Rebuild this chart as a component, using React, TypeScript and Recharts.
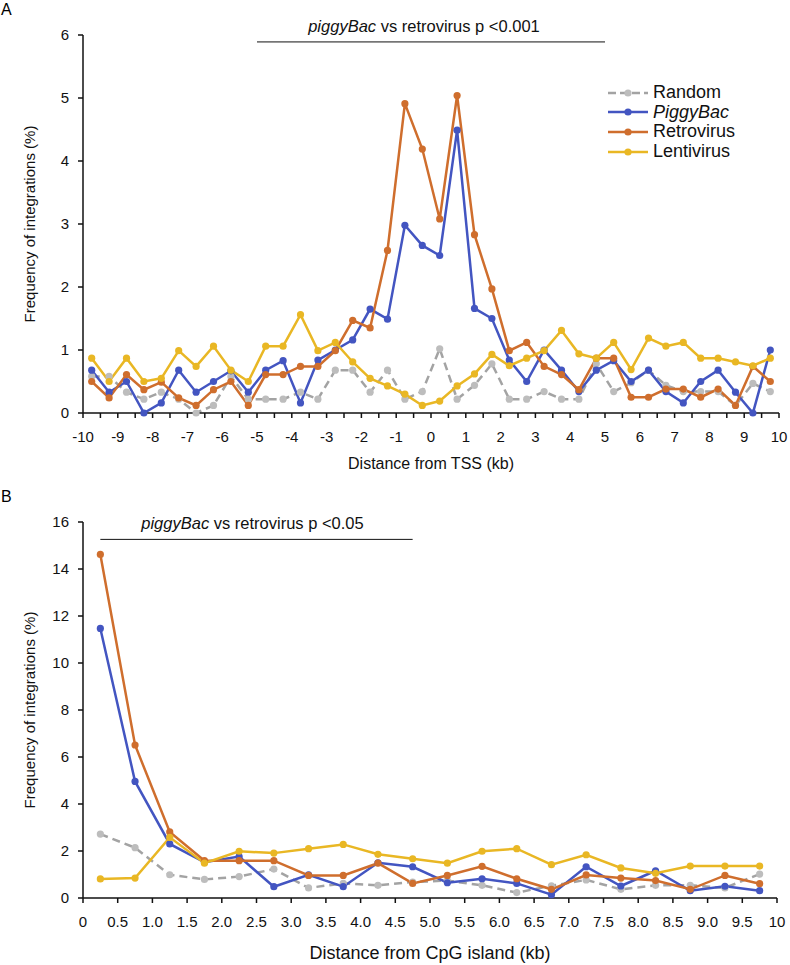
import React from "react";
import {
  LineChart,
  Line,
  XAxis,
  YAxis,
  ReferenceLine,
  Legend,
} from "recharts";

// Panel A: distance from TSS (kb), bin centres
const tssDistance = [
  -9.75, -9.25, -8.75, -8.25, -7.75, -7.25, -6.75, -6.25, -5.75, -5.25,
  -4.75, -4.25, -3.75, -3.25, -2.75, -2.25, -1.75, -1.25, -0.75, -0.25,
  0.25, 0.75, 1.25, 1.75, 2.25, 2.75, 3.25, 3.75, 4.25, 4.75,
  5.25, 5.75, 6.25, 6.75, 7.25, 7.75, 8.25, 8.75, 9.25, 9.75,
];
const tssRandom = [
  0.58, 0.58, 0.33, 0.22, 0.33, 0.22, 0.0, 0.12, 0.58, 0.22,
  0.22, 0.22, 0.33, 0.22, 0.68, 0.68, 0.33, 0.68, 0.22, 0.34,
  1.02, 0.22, 0.44, 0.78, 0.22, 0.22, 0.34, 0.22, 0.22, 0.78,
  0.34, 0.48, 0.68, 0.44, 0.34, 0.34, 0.34, 0.12, 0.47, 0.34,
];
const tssPiggyBac = [
  0.68, 0.33, 0.5, 0.0, 0.16, 0.68, 0.33, 0.5, 0.67, 0.33,
  0.68, 0.83, 0.16, 0.84, 1.0, 1.16, 1.65, 1.49, 2.98, 2.66,
  2.5, 4.49, 1.66, 1.5, 0.84, 0.5, 1.0, 0.68, 0.34, 0.68,
  0.83, 0.5, 0.68, 0.34, 0.16, 0.5, 0.68, 0.33, 0.0, 1.0,
];
const tssRetrovirus = [
  0.5, 0.24, 0.61, 0.37, 0.49, 0.24, 0.12, 0.37, 0.5, 0.12,
  0.61, 0.61, 0.74, 0.74, 0.99, 1.47, 1.35, 2.58, 4.91, 4.19,
  3.08, 5.04, 2.83, 1.97, 0.99, 1.12, 0.74, 0.61, 0.37, 0.87,
  0.87, 0.25, 0.25, 0.38, 0.38, 0.25, 0.38, 0.12, 0.74, 0.5,
];
const tssLentivirus = [
  0.87, 0.5, 0.87, 0.5, 0.55, 0.99, 0.74, 1.06, 0.68, 0.5,
  1.06, 1.06, 1.56, 0.99, 1.12, 0.81, 0.55, 0.43, 0.3, 0.12,
  0.19, 0.43, 0.62, 0.93, 0.75, 0.87, 0.99, 1.31, 0.94, 0.87,
  1.12, 0.69, 1.19, 1.06, 1.12, 0.87, 0.87, 0.81, 0.75, 0.87,
];
const tssTicks = [
  -10, -9.5, -9, -8.5, -8, -7.5, -7, -6.5, -6, -5.5, -5, -4.5, -4, -3.5,
  -3, -2.5, -2, -1.5, -1, -0.5, 0, 0.5, 1, 1.5, 2, 2.5, 3, 3.5, 4, 4.5,
  5, 5.5, 6, 6.5, 7, 7.5, 8, 8.5, 9, 9.5, 10,
];
const tssYTicks = [0, 1, 2, 3, 4, 5, 6];

// Panel B: distance from CpG island (kb), bin centres
const cpgDistance = [
  0.25, 0.75, 1.25, 1.75, 2.25, 2.75, 3.25, 3.75, 4.25, 4.75,
  5.25, 5.75, 6.25, 6.75, 7.25, 7.75, 8.25, 8.75, 9.25, 9.75,
];
const cpgRandom = [
  2.72, 2.14, 0.99, 0.79, 0.91, 1.23, 0.43, 0.62, 0.54, 0.68,
  0.74, 0.54, 0.23, 0.52, 0.77, 0.37, 0.54, 0.54, 0.43, 1.02,
];
const cpgPiggyBac = [
  11.47, 4.96, 2.3, 1.52, 1.76, 0.48, 0.99, 0.48, 1.5, 1.33,
  0.65, 0.82, 0.62, 0.14, 1.33, 0.51, 1.16, 0.31, 0.5, 0.31,
];
const cpgRetrovirus = [
  14.62, 6.51, 2.81, 1.59, 1.59, 1.59, 0.96, 0.96, 1.48, 0.62,
  0.96, 1.35, 0.82, 0.37, 0.98, 0.85, 0.74, 0.37, 0.96, 0.61,
];
const cpgLentivirus = [
  0.81, 0.85, 2.58, 1.48, 1.99, 1.91, 2.1, 2.28, 1.86, 1.67,
  1.48, 1.99, 2.1, 1.42, 1.84, 1.28, 1.05, 1.36, 1.36, 1.36,
];
const cpgTicks = [
  0, 0.5, 1, 1.5, 2, 2.5, 3, 3.5, 4, 4.5, 5, 5.5, 6, 6.5, 7, 7.5, 8, 8.5,
  9, 9.5, 10,
];
const cpgYTicks = [0, 2, 4, 6, 8, 10, 12, 14, 16];

const series = [
  { key: "random", name: "Random", color: "#a3a3a3", dotColor: "#bdbdbd", dashed: true },
  { key: "piggyBac", name: "PiggyBac", color: "#4355c1", dotColor: "#4355c1", dashed: false },
  { key: "retrovirus", name: "Retrovirus", color: "#cf6e2d", dotColor: "#cf6e2d", dashed: false },
  { key: "lentivirus", name: "Lentivirus", color: "#e9b724", dotColor: "#e9b724", dashed: false },
];

const tssData = tssDistance.map((d, i) => ({
  d,
  random: tssRandom[i],
  piggyBac: tssPiggyBac[i],
  retrovirus: tssRetrovirus[i],
  lentivirus: tssLentivirus[i],
}));

const cpgData = cpgDistance.map((d, i) => ({
  d,
  random: cpgRandom[i],
  piggyBac: cpgPiggyBac[i],
  retrovirus: cpgRetrovirus[i],
  lentivirus: cpgLentivirus[i],
}));

const FONT = "'Liberation Sans', Arial, sans-serif";
const tickStyle = { fill: "#111", fontSize: 15, fontFamily: FONT };

const pLabel = (suffix: string, dx: number) => (props: any) => {
  const vb = props.viewBox || {};
  const cx = vb.x + (vb.width || 0) / 2 + dx;
  return (
    <text
      x={cx}
      y={vb.y - 10}
      textAnchor="middle"
      fontFamily={FONT}
      fontSize={16.5}
      fill="#111"
    >
      <tspan fontStyle="italic">piggyBac</tspan>
      <tspan> vs retrovirus p {suffix}</tspan>
    </text>
  );
};

const LegendBox = () => (
  <div style={{ fontFamily: FONT, fontSize: 18, color: "#111" }}>
    {series.map((s) => (
      <div key={s.key} style={{ display: "flex", alignItems: "center", height: 19.6 }}>
        <svg width={44} height={12} style={{ marginRight: 3 }}>
          <line
            x1={2}
            y1={6}
            x2={42}
            y2={6}
            stroke={s.color}
            strokeWidth={2.5}
            strokeDasharray={s.dashed ? "8 4" : undefined}
          />
          <circle cx={22} cy={6} r={3.6} fill={s.dotColor} />
        </svg>
        <span style={{ fontStyle: s.key === "piggyBac" ? "italic" : "normal" }}>
          {s.name}
        </span>
      </div>
    ))}
  </div>
);

const renderLines = () =>
  series.map((s) => (
    <Line
      key={s.key}
      type="linear"
      dataKey={s.key}
      name={s.name}
      stroke={s.color}
      strokeWidth={2.5}
      strokeDasharray={s.dashed ? "8 5" : undefined}
      dot={{ r: 3.6, fill: s.dotColor, stroke: s.dotColor, strokeWidth: 0 }}
      isAnimationActive={false}
    />
  ));

export default function App() {
  return (
    <div style={{ position: "absolute", left: 0, top: 0, width: 790, height: 965, background: "#fff" }}>
      <div style={{ position: "absolute", left: 1, top: 1, fontFamily: FONT, fontSize: 16 }}>A</div>
      <div style={{ position: "absolute", left: 0, top: 0 }}>
        <LineChart
          width={790}
          height={476}
          data={tssData}
          margin={{ top: 35, right: 11, left: 23, bottom: 7 }}
        >
          <XAxis
            dataKey="d"
            type="number"
            domain={[-10, 10]}
            ticks={tssTicks}
            interval={0}
            tickFormatter={(v: number) => (Number.isInteger(v) ? String(v) : "")}
            tick={tickStyle}
            tickSize={5}
            tickMargin={13}
            height={56}
            stroke="#111"
            strokeWidth={1.5}
            label={{
              value: "Distance from TSS (kb)",
              position: "insideBottom",
              offset: 0,
              style: { fontFamily: FONT, fontSize: 16, fill: "#111" },
            }}
          />
          <YAxis
            type="number"
            domain={[0, 6]}
            ticks={tssYTicks}
            interval={0}
            tick={tickStyle}
            tickSize={5}
            tickMargin={9}
            width={60}
            stroke="#111"
            strokeWidth={1.5}
            label={{
              value: "Frequency of integrations (%)",
              angle: -90,
              position: "insideLeft",
              offset: 7,
              style: { fontFamily: FONT, fontSize: 15, fill: "#111", textAnchor: "middle" },
            }}
          />
          <ReferenceLine
            segment={[
              { x: -5, y: 5.89 },
              { x: 5, y: 5.89 },
            ]}
            stroke="#111"
            strokeWidth={1}
            ifOverflow="visible"
            label={pLabel("<0.001", -7)}
          />
          {renderLines()}
          <Legend
            content={() => <LegendBox />}
            layout="vertical"
            align="center"
            verticalAlign="middle"
            wrapperStyle={{ position: "absolute", top: 83, left: 606, width: 160 }}
          />
        </LineChart>
      </div>

      <div style={{ position: "absolute", left: 1, top: 488, fontFamily: FONT, fontSize: 16 }}>B</div>
      <div style={{ position: "absolute", left: 0, top: 476 }}>
        <LineChart
          width={790}
          height={489}
          data={cpgData}
          margin={{ top: 46, right: 13, left: 23, bottom: 6 }}
        >
          <XAxis
            dataKey="d"
            type="number"
            domain={[0, 10]}
            ticks={cpgTicks}
            interval={0}
            tickFormatter={(v: number) => (v === 0 || v === 10 ? String(v) : v.toFixed(1))}
            tick={tickStyle}
            tickSize={5}
            tickMargin={13}
            height={61}
            stroke="#111"
            strokeWidth={1.5}
            label={{
              value: "Distance from CpG island (kb)",
              position: "insideBottom",
              offset: 0,
              style: { fontFamily: FONT, fontSize: 18, fill: "#111" },
            }}
          />
          <YAxis
            type="number"
            domain={[0, 16]}
            ticks={cpgYTicks}
            interval={0}
            tick={tickStyle}
            tickSize={5}
            tickMargin={9}
            width={60}
            stroke="#111"
            strokeWidth={1.5}
            label={{
              value: "Frequency of integrations (%)",
              angle: -90,
              position: "insideLeft",
              offset: 7,
              style: { fontFamily: FONT, fontSize: 15, fill: "#111", textAnchor: "middle" },
            }}
          />
          <ReferenceLine
            segment={[
              { x: 0.25, y: 15.26 },
              { x: 4.75, y: 15.26 },
            ]}
            stroke="#111"
            strokeWidth={1}
            ifOverflow="visible"
            label={pLabel("<0.05", -4)}
          />
          {renderLines()}
        </LineChart>
      </div>
    </div>
  );
}
